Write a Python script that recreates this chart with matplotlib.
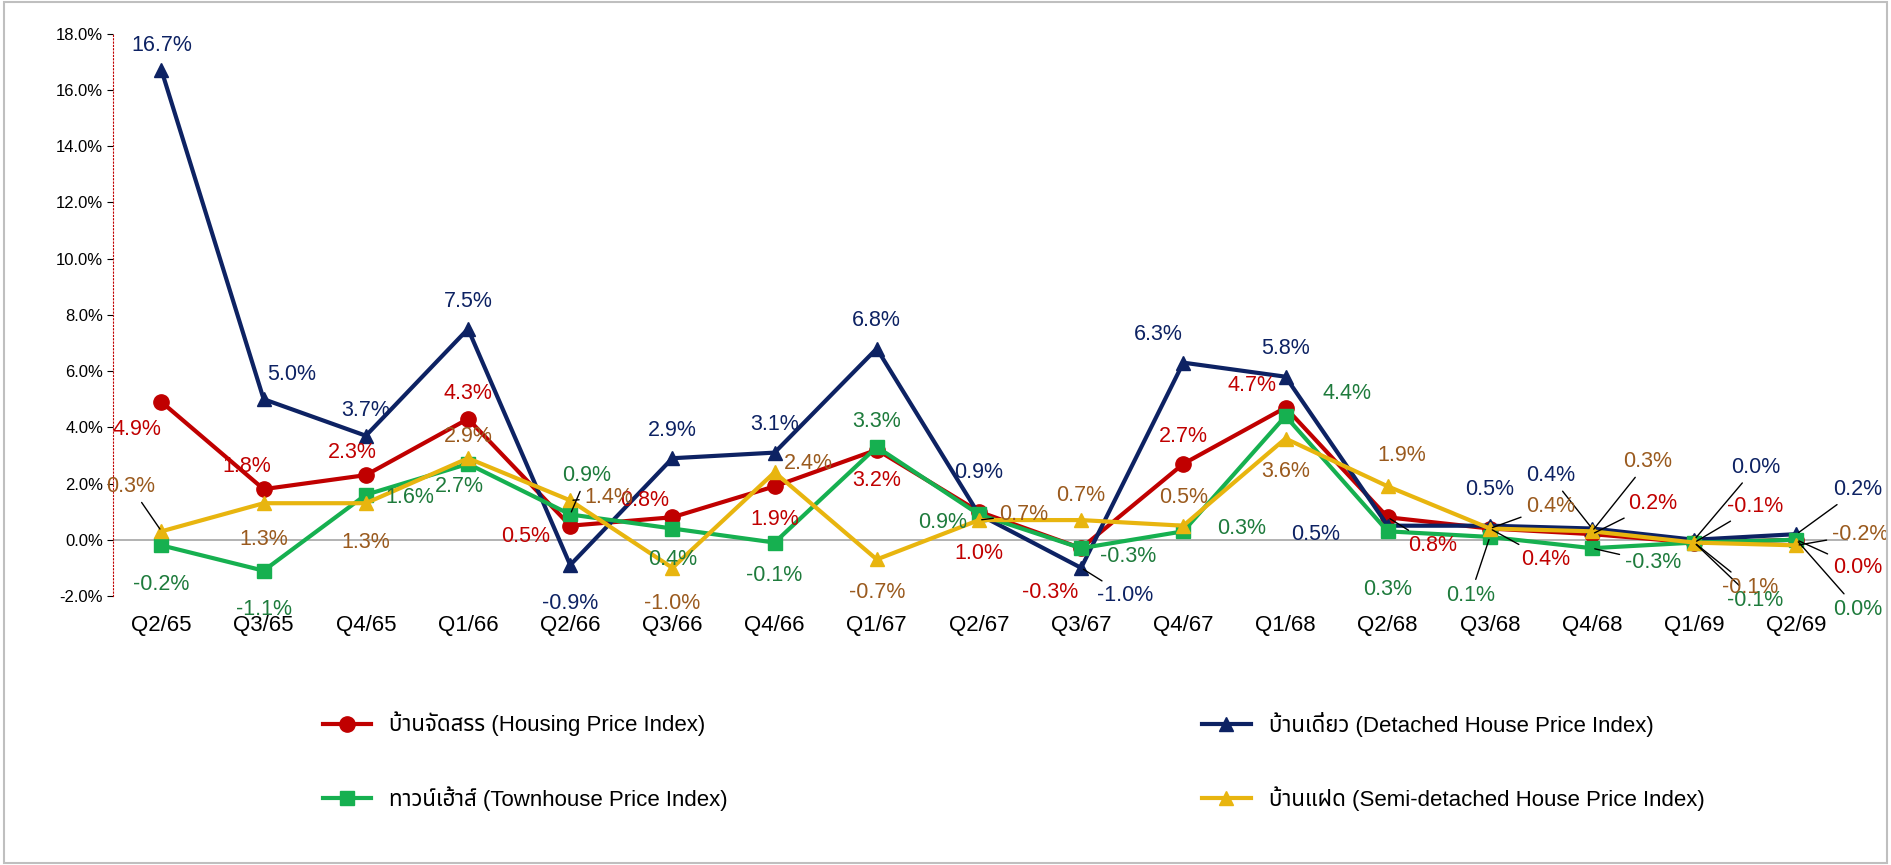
import matplotlib
matplotlib.use("Agg")
import matplotlib.pyplot as plt
import numpy as np

quarters = ["Q2/65", "Q3/65", "Q4/65", "Q1/66", "Q2/66", "Q3/66", "Q4/66", "Q1/67", "Q2/67",
            "Q3/67", "Q4/67", "Q1/68", "Q2/68", "Q3/68", "Q4/68", "Q1/69", "Q2/69"]
housing = [4.9, 1.8, 2.3, 4.3, 0.5, 0.8, 1.9, 3.2, 1.0, -0.3, 2.7, 4.7, 0.8, 0.4, 0.2, -0.1, 0.0]
detached = [16.7, 5.0, 3.7, 7.5, -0.9, 2.9, 3.1, 6.8, 0.9, -1.0, 6.3, 5.8, 0.5, 0.5, 0.4, 0.0, 0.2]
townhouse = [-0.2, -1.1, 1.6, 2.7, 0.9, 0.4, -0.1, 3.3, 0.9, -0.3, 0.3, 4.4, 0.3, 0.1, -0.3, -0.1, 0.0]
semi = [0.3, 1.3, 1.3, 2.9, 1.4, -1.0, 2.4, -0.7, 0.7, 0.7, 0.5, 3.6, 1.9, 0.4, 0.3, -0.1, -0.2]

names = ["บ้านจัดสรร (Housing Price Index)", "บ้านเดี่ยว (Detached House Price Index)",
         "ทาวน์เฮ้าส์ (Townhouse Price Index)", "บ้านแฝด (Semi-detached House Price Index)"]

families = ["Liberation Sans", "Noto Sans Thai", "Noto Sans", "Open Sans", "Roboto", "Lato",
            "Inter", "Noto Sans CJK SC", "DejaVu Sans"]
import matplotlib.font_manager as fm
installed = {f.name for f in fm.fontManager.ttflist}
plt.rcParams["font.family"] = [f for f in families if f in installed]

fig = plt.figure(figsize=(18.91, 8.65), dpi=100)
fig.patch.set_facecolor("white")
ax = fig.add_axes([0.06, 0.311, 0.917, 0.65])
x = np.arange(len(quarters))

# series: values, colour, marker, label colour, default offset (pt)
series = [
    (housing, "#C00000", "o", "#C00000", (-28, -14)),
    (detached, "#0D2263", "^", "#0D2263", (14, 16)),
    (townhouse, "#16B050", "s", "#1E7B3C", (0, -26)),
    (semi, "#E8B50F", "^", "#9A5A1E", (0, 16)),
]
# per-point label offsets where the default collides
overrides = {
    (0, 0): (-18, -20), (0, 1): (-12, 16), (0, 2): (-10, 16), (0, 3): (0, 18), (0, 4): (-32, -8),
    (0, 5): (-20, 12), (0, 6): (0, -24), (0, 7): (0, -22), (0, 8): (0, -30), (0, 9): (-22, -32),
    (0, 10): (0, 20), (0, 11): (-24, 16), (0, 12): (32, -20), (0, 13): (40, -22), (0, 14): (44, 22),
    (0, 15): (44, 26), (0, 16): (44, -20),
    (1, 0): (0, 18), (1, 1): (20, 18), (1, 2): (0, 18), (1, 3): (0, 20), (1, 4): (0, -28),
    (1, 5): (0, 20), (1, 6): (0, 20), (1, 7): (0, 20), (1, 8): (0, 30), (1, 9): (32, -20),
    (1, 10): (-18, 20), (1, 11): (0, 20), (1, 12): (-52, -6), (1, 13): (0, 26), (1, 14): (-30, 38),
    (1, 15): (44, 52), (1, 16): (44, 32),
    (2, 0): (0, -28), (2, 1): (0, -28), (2, 2): (32, -2), (2, 3): (-6, -16), (2, 4): (12, 28),
    (2, 5): (0, -22), (2, 6): (0, -24), (2, 7): (0, 18), (2, 8): (-26, -6), (2, 9): (34, -6),
    (2, 10): (42, 2), (2, 11): (44, 16), (2, 12): (0, -42), (2, 13): (-14, -42), (2, 14): (44, -10),
    (2, 15): (44, -42), (2, 16): (44, -50),
    (3, 0): (-22, 32), (3, 1): (0, -26), (3, 2): (0, -28), (3, 3): (0, 16), (3, 4): (28, 2),
    (3, 5): (0, -26), (3, 6): (24, 6), (3, 7): (0, -24), (3, 8): (32, 4), (3, 9): (0, 18),
    (3, 10): (0, 20), (3, 11): (0, -24), (3, 12): (10, 22), (3, 13): (44, 16), (3, 14): (40, 50),
    (3, 15): (40, -32), (3, 16): (46, 8),
}
long_leaders = {(0, 12), (0, 13), (0, 14), (0, 15), (0, 16), (1, 9), (1, 15), (1, 16), (1, 14),
                (2, 15), (2, 16), (2, 14), (2, 13), (3, 0), (3, 13), (3, 14), (3, 15), (3, 16),
                (3, 8), (3, 4), (2, 4)}

handles = []
for si, (vals, col, mk, lcol, dflt) in enumerate(series):
    (h,) = ax.plot(x, vals, color=col, marker=mk, markersize=10 if mk != "o" else 11,
                   linewidth=3, zorder=3 + si * 0.1)
    handles.append(h)
    for i, v in enumerate(vals):
        off = overrides.get((si, i), dflt)
        props = dict(arrowstyle="-", color="black", lw=1) if (si, i) in long_leaders else None
        ax.annotate(f"{v:.1f}%", (i, v), xytext=off, textcoords="offset points",
                    ha="center", va="center", fontsize=15.5, color=lcol, arrowprops=props,
                    zorder=6, annotation_clip=False)

ax.set_xlim(-0.47, len(quarters) - 0.5)
ax.set_ylim(-2, 18)
ax.set_yticks(np.arange(-2, 18.1, 2))
ax.set_yticklabels([f"{t:.1f}%" for t in np.arange(-2, 18.1, 2)], fontsize=12)
ax.set_xticks(x)
ax.set_xticklabels(quarters, fontsize=16)
ax.tick_params(axis="x", length=0, pad=14)
ax.tick_params(axis="y", length=4)
ax.axhline(0, color="#A6A6A6", linewidth=1.2, zorder=1)
for s in ["top", "right", "bottom"]:
    ax.spines[s].set_visible(False)
ax.spines["left"].set_linestyle((0, (1, 2)))
ax.spines["left"].set_color("#C00000")

leg_pos = [(0.16, 0.163), (0.625, 0.163), (0.16, 0.077), (0.625, 0.077)]
for h, name, pos in zip(handles, names, leg_pos):
    fig.legend([h], [name], loc="center left", bbox_to_anchor=pos, frameon=False,
               fontsize=16, handlelength=2.2)

fig.add_artist(plt.Rectangle((0.002, 0.002), 0.996, 0.996, transform=fig.transFigure,
                             fill=False, edgecolor="#BFBFBF", linewidth=1.5))
fig.savefig("out.png", dpi=100)
